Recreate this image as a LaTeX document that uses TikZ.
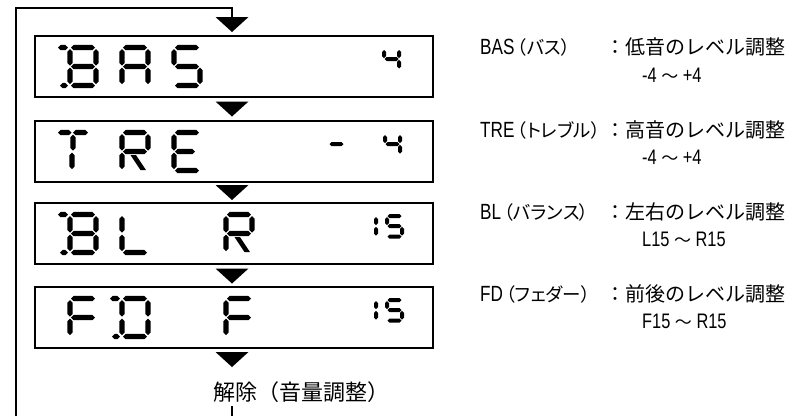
\documentclass[tikz,border=0pt]{standalone}
\usepackage{fontspec}
\setmainfont{Liberation Sans}[FakeStretch=0.78]
\newfontfamily\jp{Noto Sans CJK JP}
\newfontfamily\jpp{Noto Sans CJK JP}[CharacterWidth=AlternateProportional]
\usetikzlibrary{calc}
\def\hw{2.6}
% horizontal segment: x1 x2 y ; vertical segment: x y1 y2
\newcommand\hs[3]{\fill (#1,#3) -- (#1+\hw,#3-\hw) -- (#2-\hw,#3-\hw) -- (#2,#3) -- (#2-\hw,#3+\hw) -- (#1+\hw,#3+\hw) -- cycle;}
\newcommand\vs[3]{\fill (#1,#2) -- (#1+\hw,#2+\hw) -- (#1+\hw,#3-\hw) -- (#1,#3) -- (#1-\hw,#3-\hw) -- (#1-\hw,#2+\hw) -- cycle;}
% big segments
\newcommand\sga{\hs{13}{37}{2.5}}
\newcommand\sgb{\vs{38}{4}{20.5}}
\newcommand\sgc{\vs{38}{22.5}{39}}
\newcommand\sgd{\hs{13}{37}{40.5}}
\newcommand\sge{\vs{12}{22.5}{39}}
\newcommand\sgf{\vs{12}{4}{20.5}}
\newcommand\sgg{\hs{13}{37}{21.5}}
\newcommand\sgbrk{\hs{0}{10}{2.5}\hs{2}{10}{40.5}}
\newcommand\sgdiag{\fill (20.5,25) -- (26,25) -- (36,40) -- (30.5,40) -- cycle;}
% small segments
\newcommand\ssa{\hs{2.5}{16.5}{2}}
\newcommand\ssb{\vs{17}{3}{11.2}}
\newcommand\ssc{\vs{17}{12.8}{21.5}}
\newcommand\ssd{\hs{2.5}{16.5}{22.5}}
\newcommand\sse{\vs{2}{12.8}{21.5}}
\newcommand\ssf{\vs{2}{3}{11.2}}
\newcommand\ssg{\hs{2.5}{16.5}{12}}
\newcommand\kata{\jpp\fontsize{18.5}{22}\selectfont}
\newcommand\wave{\jp\fontsize{17}{20}\selectfont ～}
\tikzset{
  lcd/.style={draw, line width=1.6pt, minimum width=398pt, minimum height=61pt, inner sep=0pt, outer sep=0pt},
  lab/.style={anchor=base west, inner sep=0pt, font=\fontsize{22}{26}\selectfont},
  desc/.style={anchor=base west, inner sep=0pt, font=\jp\fontsize{20}{24}\selectfont},
  rng/.style={anchor=base west, inner sep=0pt, font=\fontsize{21}{25}\selectfont},
  flow/.style={line width=1.6pt},
}
\newcommand\tri[1]{\fill ($(#1)+(-16.5,0)$) -- ($(#1)+(16.5,0)$) -- ($(#1)+(0,15)$) -- cycle;}
\begin{document}
\begin{tikzpicture}[x=1pt,y=-1pt]
\useasboundingbox (0,0) rectangle (795,416);
% boxes
\node[lcd] (b1) at (234,66.5) {};
\node[lcd] (b2) at (234,151.5) {};
\node[lcd] (b3) at (234,233.5) {};
\node[lcd] (b4) at (234,317.5) {};
% arrow heads
\coordinate (t1) at (232,17);
\coordinate (t2) at (232,101.5);
\coordinate (t3) at (232,185);
\coordinate (t4) at (232,268.5);
\coordinate (t5) at (232,352);
\foreach \t in {t1,t2,t3,t4,t5}{\tri{\t}}
% loop line
\coordinate (lb) at (16,416);
\coordinate (lt) at (232,8);
\draw[flow] (lb) |- (lt) -- (t1);
\node[anchor=base west, inner sep=0pt, font=\jp\fontsize{22}{26}\selectfont] (rel) at (213,400) {解除（音量調整）};
\coordinate (rt) at (232,406);
\coordinate (rb) at (232,416);
\draw[flow] (rt) -- (rb);
% ---- box 1: BAS   4
\begin{scope}[shift={(58,45)}] \sgbrk\sga\sgb\sgc\sgd\sge\sgf\sgg \end{scope}
\begin{scope}[shift={(110,45)}] \sga\sgb\sgc\sge\sgf\sgg \end{scope}
\begin{scope}[shift={(162,45)}] \sga\sgf\sgg\sgc\sgd \end{scope}
\begin{scope}[shift={(382,47)}] \def\hw{2} \ssf\ssg\ssb\ssc \end{scope}
% ---- box 2: TRE  - 4
\begin{scope}[shift={(58,130)}]
  \hs{0}{13.5}{2.5}\hs{15}{30}{2.5}\vs{15}{4.5}{20.5}\vs{14}{22.5}{39}
\end{scope}
\begin{scope}[shift={(110,130)}] \sga\sgb\sgf\sgg\sge\sgdiag \end{scope}
\begin{scope}[shift={(162,130)}] \sga\sgf\hs{13}{33}{21.5}\sge\sgd \end{scope}
\begin{scope}[shift={(327,132)}] \def\hw{2} \ssg \end{scope}
\begin{scope}[shift={(383,132)}] \def\hw{2} \ssf\ssg\ssb\ssc \end{scope}
% ---- box 3: BL  R  15
\begin{scope}[shift={(58,212)}] \sgbrk\sga\sgb\sgc\sgd\sge\sgf\sgg \end{scope}
\begin{scope}[shift={(110,212)}] \sgf\sge\sgd \end{scope}
\begin{scope}[shift={(214,212)}] \sga\sgb\sgf\sgg\sge\sgdiag \end{scope}
\begin{scope}[shift={(359,214)}] \def\hw{2} \ssb\ssc \end{scope}
\begin{scope}[shift={(385,214)}] \def\hw{2} \ssa\ssf\ssg\ssc\ssd \end{scope}
% ---- box 4: FD  F  15
\begin{scope}[shift={(58,296)}] \sga\sgf\sgg\sge \end{scope}
\begin{scope}[shift={(110,296)}] \sgbrk\sga\sgb\sgc\sgd\sge\sgf \end{scope}
\begin{scope}[shift={(214,296)}] \sga\sgf\sgg\sge \end{scope}
\begin{scope}[shift={(359,298)}] \def\hw{2} \ssb\ssc \end{scope}
\begin{scope}[shift={(385,298)}] \def\hw{2} \ssa\ssf\ssg\ssc\ssd \end{scope}
% ---- right texts
\node[lab] (l1) at (480,54) {BAS\hspace{3pt}{\kata（バス）}};
\node[desc] (d1) at (605,54) {：低音のレベル調整};
\node[rng] (r1) at (642,82) {-4 {\wave} +4};
\node[lab] (l2) at (480,137) {TRE\hspace{3pt}{\kata（トレブル）}};
\node[desc] (d2) at (605,137) {：高音のレベル調整};
\node[rng] (r2) at (642,164) {-4 {\wave} +4};
\node[lab] (l3) at (480,219) {BL\hspace{3pt}{\kata（バランス）}};
\node[desc] (d3) at (605,219) {：左右のレベル調整};
\node[rng] (r3) at (642,246) {L15 {\wave} R15};
\node[lab] (l4) at (480,301) {FD\hspace{3pt}{\kata（フェダー）}};
\node[desc] (d4) at (605,301) {：前後のレベル調整};
\node[rng] (r4) at (642,328) {F15 {\wave} R15};
\end{tikzpicture}
\end{document}
